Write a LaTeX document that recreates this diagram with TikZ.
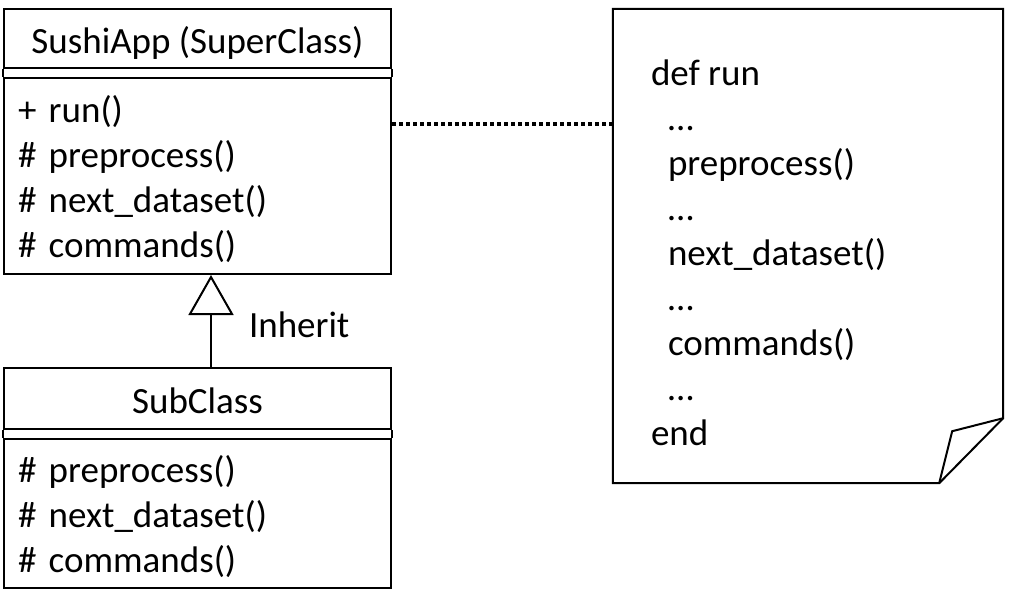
\documentclass[tikz,border=0pt]{standalone}
\usepackage{fontspec}
\setmainfont{Carlito}
\usepackage{tikz}
\usetikzlibrary{arrows.meta, positioning, calc}
\tikzstyle{classhead} = [rectangle, draw=black, line width=2pt, minimum width=387pt, inner sep=0pt, text height=30pt, text depth=0pt]
\tikzstyle{classbody} = [rectangle, draw=black, line width=2pt, minimum width=387pt, text width=359pt, inner xsep=14pt, inner ysep=0pt, align=left]
\tikzstyle{inherit} = [line width=2pt, -{Triangle[open, length=40pt, width=45pt]}]
\tikzstyle{link} = [line width=3.5pt, dash pattern=on 3.5pt off 3.5pt]
\tikzstyle{notebox} = [line width=2pt, line join=miter]
\newcommand{\topstrut}{\rule{0pt}{37pt}}
\newcommand{\botstrut}{\rule[-10pt]{0pt}{10pt}}

\begin{document}
\begin{tikzpicture}[x=1pt, y=-1pt, every node/.style={font=\fontsize{37}{45}\selectfont}]
  \useasboundingbox (0,0) rectangle (1017,590);

  % super class
  \node[classhead, minimum height=59pt] (superhead) at (197.5,38.5) {SushiApp (SuperClass)};
  \node[classbody, minimum height=196pt, below=8pt of superhead] (superbody) {\topstrut+ run()\\\# preprocess()\\\# next\_dataset()\\\# commands()\botstrut};
  \draw[line width=2pt] (superhead.south west) -- (superbody.north west);
  \draw[line width=2pt] (superhead.south east) -- (superbody.north east);

  % sub class
  \node[classhead, minimum height=61pt] (subhead) at (197.5,398.5) {SubClass};
  \node[classbody, minimum height=149pt, below=8pt of subhead] (subbody) {\topstrut\# preprocess()\\\# next\_dataset()\\\# commands()\botstrut};
  \draw[line width=2pt] (subhead.south west) -- (subbody.north west);
  \draw[line width=2pt] (subhead.south east) -- (subbody.north east);

  \draw[inherit] ([xshift=13.5pt]subhead.north) -- node[anchor=base west, inner sep=0pt, xshift=37pt, yshift=-16pt] (inh) {Inherit} ([xshift=13.5pt]superbody.south);

  % note
  \node[minimum width=390pt, minimum height=474pt, inner sep=0pt] (note) at (808,246) {};
  \draw[notebox] (note.north west) -- (note.north east) -- ([yshift=65pt]note.south east)
    -- ([xshift=-64pt]note.south east) -- (note.south west) -- cycle;
  \draw[notebox] ([xshift=-64pt]note.south east) -- ([xshift=-51pt, yshift=52pt]note.south east)
    -- ([yshift=65pt]note.south east);
  \node[anchor=west, align=left, inner sep=0pt] (code) at ([xshift=38pt, yshift=-7pt]note.west)
    {def run\\\hspace*{17pt}…\\\hspace*{17pt}preprocess()\\\hspace*{17pt}…\\\hspace*{17pt}next\_dataset()\\\hspace*{17pt}…\\\hspace*{17pt}commands()\\\hspace*{17pt}…\\end};

  \draw[link] ([yshift=-47pt]superbody.north east) -- ([yshift=-47pt]superbody.north east -| note.west);
\end{tikzpicture}
\end{document}
